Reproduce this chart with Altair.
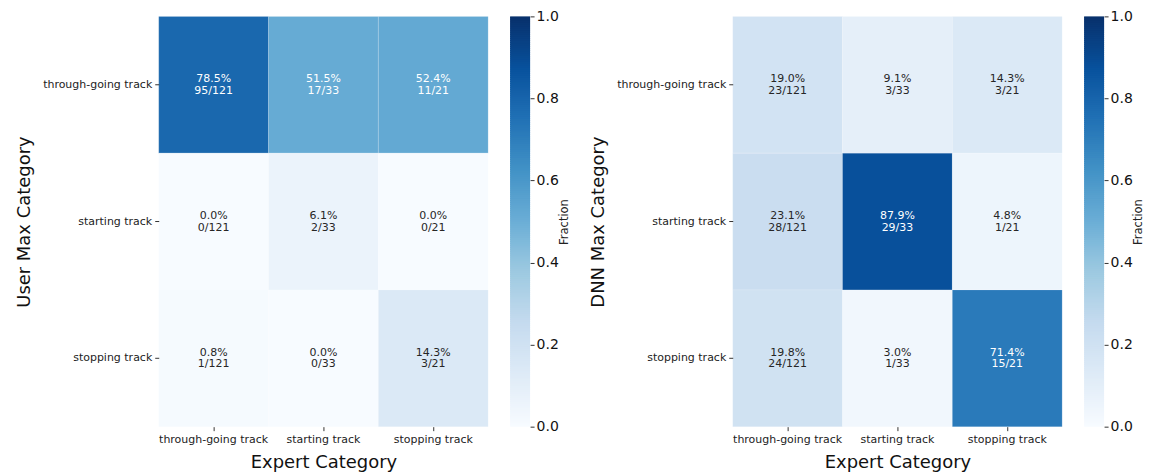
import altair as alt
import pandas as pd

# Category order shared by both confusion matrices
expert_categories = ["through-going track", "starting track", "stopping track"]
predicted_categories = ["through-going track", "starting track", "stopping track"]

# Number of events per expert category (column totals)
expert_totals = [121, 33, 21]

# Counts: rows = predicted category, columns = expert category
user_counts = [
    [95, 17, 11],
    [0, 2, 0],
    [1, 0, 3],
]
dnn_counts = [
    [23, 3, 3],
    [28, 29, 1],
    [24, 1, 15],
]

# Matplotlib "Blues" anchor colours
blues = ["#f7fbff", "#deebf7", "#c6dbef", "#9ecae1", "#6baed6",
         "#4292c6", "#2171b5", "#08519c", "#08306b"]
cbar_ticks = [0.0, 0.2, 0.4, 0.6, 0.8, 1.0]

FONT = "DejaVu Sans"
color_scale = alt.Scale(
    domain=[i / 8 for i in range(9)], range=blues, interpolate="rgb"
)


def matrix_frame(counts):
    recs = []
    for i, pred in enumerate(predicted_categories):
        for j, exp in enumerate(expert_categories):
            n = counts[i][j]
            tot = expert_totals[j]
            frac = n / tot
            recs.append({
                "pred": pred,
                "expert": exp,
                "frac": frac,
                "pct": f"{frac * 100:.1f}%",
                "cnt": f"{n}/{tot}",
            })
    return pd.DataFrame(recs)


def heatmap(counts, ytitle):
    df = matrix_frame(counts)
    base = alt.Chart(df).encode(
        x=alt.X(
            "expert:N", sort=expert_categories, title="Expert Category",
            scale=alt.Scale(paddingInner=0, paddingOuter=0),
            axis=alt.Axis(labelAngle=0, labelFontSize=11, labelFont=FONT,
                          labelColor="#222", tickSize=4, tickColor="#333",
                          domain=False, labelPadding=3,
                          titleFontSize=18, titleFont=FONT,
                          titleFontWeight="normal", titleColor="#111",
                          titlePadding=9),
        ),
        y=alt.Y(
            "pred:N", sort=predicted_categories, title=ytitle,
            scale=alt.Scale(paddingInner=0, paddingOuter=0),
            axis=alt.Axis(labelFontSize=11, labelFont=FONT, labelColor="#222",
                          tickSize=4, tickColor="#333", domain=False,
                          labelPadding=3, titleFontSize=18, titleFont=FONT,
                          titleFontWeight="normal", titleColor="#111",
                          titlePadding=9),
        ),
    )
    rect = base.mark_rect(stroke="white", strokeWidth=0.5,
                          strokeOpacity=0.3).encode(
        color=alt.Color("frac:Q", scale=color_scale, legend=None)
    )
    txt_color = alt.condition(alt.datum.frac > 0.45,
                              alt.value("#ffffff"), alt.value("#262626"))
    top = base.mark_text(dy=-5.5, fontSize=11, font=FONT).encode(
        text="pct:N", color=txt_color)
    bot = base.mark_text(dy=6, fontSize=11, font=FONT).encode(
        text="cnt:N", color=txt_color)
    return alt.layer(rect, top, bot).properties(width=330, height=411)


def colorbar():
    step = 0.005
    n = int(round(1 / step))
    df = pd.DataFrame({
        "v": [k * step for k in range(n)],
        "v2": [min((k + 1.6) * step, 1.0) for k in range(n)],
        "c": [(k + 0.5) * step for k in range(n)],
    })
    return alt.Chart(df).mark_rect(strokeWidth=0).encode(
        y=alt.Y("v:Q", scale=alt.Scale(domain=[0, 1], nice=False, zero=False),
                axis=alt.Axis(orient="right", values=cbar_ticks, format=".1f",
                              labelFontSize=14, labelFont=FONT,
                              labelColor="#111", tickSize=4, tickColor="#333",
                              domain=False, grid=False, labelPadding=2,
                              title="Fraction", titleAngle=270,
                              titleFontSize=11.5, titleFont=FONT,
                              titleFontWeight="normal", titleColor="#222",
                              titlePadding=11)),
        y2="v2:Q",
        color=alt.Color("c:Q", scale=color_scale, legend=None),
    ).properties(width=20, height=411)


left = alt.hconcat(heatmap(user_counts, "User Max Category"), colorbar(),
                   spacing=21)
right = alt.hconcat(heatmap(dnn_counts, "DNN Max Category"), colorbar(),
                    spacing=21)

chart = alt.hconcat(left, right, spacing=19).properties(
    padding={"left": 15, "top": 9, "right": 5, "bottom": 5},
    background="white",
).configure_view(stroke=None).resolve_scale(color="shared")

chart.save("out.html", embed_options={"renderer": "svg", "actions": False})
